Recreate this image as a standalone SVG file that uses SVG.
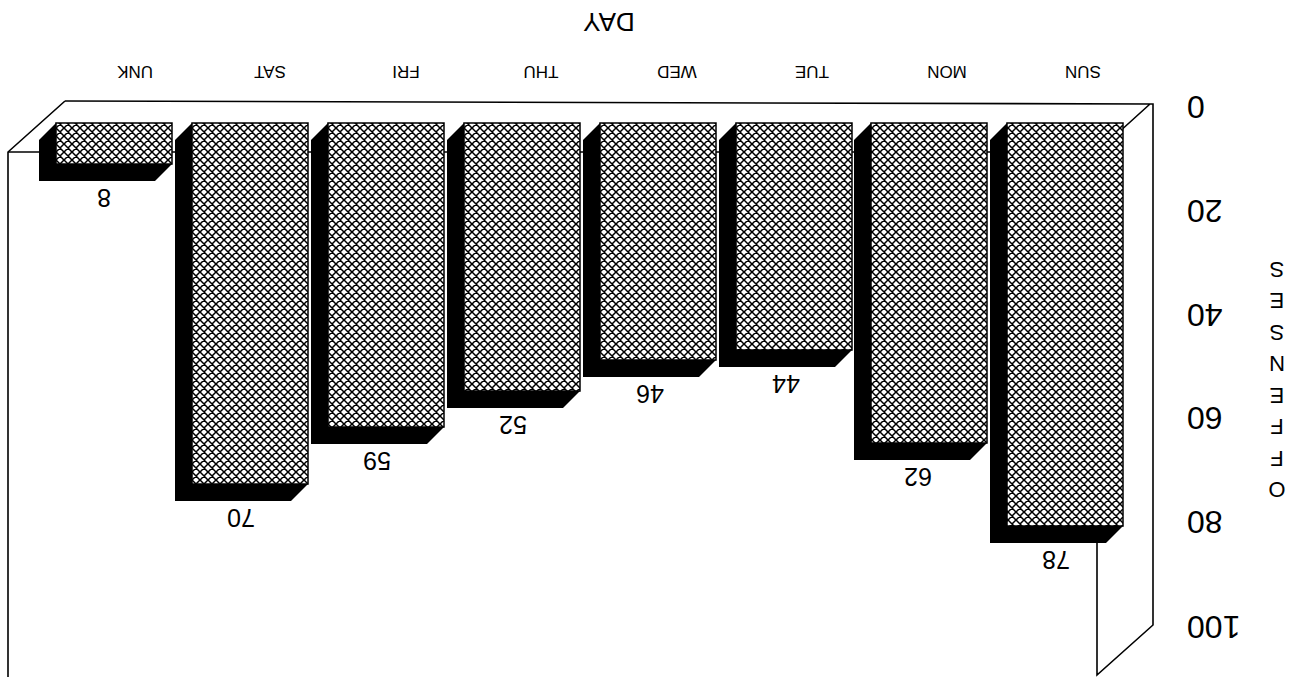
<svg xmlns="http://www.w3.org/2000/svg" width="1295" height="677" viewBox="0 0 1295 677">
<defs>
<pattern id="hatch" patternUnits="userSpaceOnUse" width="8" height="8">
<rect width="8" height="8" fill="#fff"/>
<path d="M0,0 L8,8 M8,0 L0,8 M-1,7 L1,9 M7,-1 L9,1 M-1,1 L1,-1 M7,9 L9,7" stroke="#000" stroke-width="1.5"/>
</pattern>
<style>
.t{font-family:"Liberation Sans",Arial,sans-serif;fill:#000}
.ax{font-size:32px;text-anchor:end}
.cat{font-size:17px;text-anchor:middle}
.val{font-size:25px;text-anchor:middle}
.ttl{font-size:26px;text-anchor:middle}
.vt{font-size:22px;text-anchor:middle}
.ln{stroke:#000;stroke-width:1.6;fill:none}
.sh{fill:#000}
.face{fill:url(#hatch);stroke:#000;stroke-width:1.5}
</style>
</defs>
<rect width="1295" height="677" fill="#fff"/>
<g id="frame">
<path class="ln" d="M65,101 L1150,104 L1153,104 L1153,625 L1097,675 L1097,152 L1150,104"/>
<path class="ln" d="M65,101 L8,152 L8,677"/>
<path class="ln" d="M8,152 L1097,152"/>
</g>
<g id="bars">
<g id="bar-unk"><polygon class="sh" points="56,123 172,123 172,164 155,181 39,181 39,140"/><rect class="face" x="56" y="123" width="116" height="41"/></g>
<g id="bar-sat"><polygon class="sh" points="192,123 308,123 308,484 291,501 175,501 175,140"/><rect class="face" x="192" y="123" width="116" height="361"/></g>
<g id="bar-fri"><polygon class="sh" points="328,123 444,123 444,427 427,444 311,444 311,140"/><rect class="face" x="328" y="123" width="116" height="304"/></g>
<g id="bar-thu"><polygon class="sh" points="464,123 580,123 580,391 563,408 447,408 447,140"/><rect class="face" x="464" y="123" width="116" height="268"/></g>
<g id="bar-wed"><polygon class="sh" points="600,123 716,123 716,360 699,377 583,377 583,140"/><rect class="face" x="600" y="123" width="116" height="237"/></g>
<g id="bar-tue"><polygon class="sh" points="736,123 852,123 852,350 835,367 719,367 719,140"/><rect class="face" x="736" y="123" width="116" height="227"/></g>
<g id="bar-mon"><polygon class="sh" points="871,123 987,123 987,443 970,460 854,460 854,140"/><rect class="face" x="871" y="123" width="116" height="320"/></g>
<g id="bar-sun"><polygon class="sh" points="1007,123 1123,123 1123,526 1106,543 990,543 990,140"/><rect class="face" x="1007" y="123" width="116" height="403"/></g>
</g>
<g id="values">
<text class="t val" x="104" y="207" transform="rotate(180 104 198)">8</text>
<text class="t val" x="241" y="527" transform="rotate(180 241 518)">70</text>
<text class="t val" x="377" y="470" transform="rotate(180 377 461)">59</text>
<text class="t val" x="513" y="434" transform="rotate(180 513 425)">52</text>
<text class="t val" x="650" y="403" transform="rotate(180 650 394)">46</text>
<text class="t val" x="786" y="393" transform="rotate(180 786 384)">44</text>
<text class="t val" x="918" y="486" transform="rotate(180 918 477)">62</text>
<text class="t val" x="1056" y="569" transform="rotate(180 1056 560)">78</text>
</g>
<g id="categories">
<text class="t cat" x="135" y="78" transform="rotate(180 135 72)">UNK</text>
<text class="t cat" x="270" y="78" transform="rotate(180 270 72)">SAT</text>
<text class="t cat" x="406" y="78" transform="rotate(180 406 72)">FRI</text>
<text class="t cat" x="541" y="78" transform="rotate(180 541 72)">THU</text>
<text class="t cat" x="677" y="78" transform="rotate(180 677 72)">WED</text>
<text class="t cat" x="812" y="78" transform="rotate(180 812 72)">TUE</text>
<text class="t cat" x="947" y="78" transform="rotate(180 947 72)">MON</text>
<text class="t cat" x="1083" y="78" transform="rotate(180 1083 72)">SUN</text>
</g>
<text id="xtitle" class="t ttl" x="609" y="31" transform="rotate(180 609 22)">DAY</text>
<g id="axis">
<text class="t ax" x="1187" y="118.5" transform="rotate(180 1187 107)">0</text>
<text class="t ax" x="1187" y="222.5" transform="rotate(180 1187 211)">20</text>
<text class="t ax" x="1187" y="326.5" transform="rotate(180 1187 315)">40</text>
<text class="t ax" x="1187" y="429.5" transform="rotate(180 1187 418)">60</text>
<text class="t ax" x="1187" y="533.5" transform="rotate(180 1187 522)">80</text>
<text class="t ax" x="1187" y="638.5" transform="rotate(180 1187 627)">100</text>
</g>
<g id="ytitle">
<text class="t vt" x="1277" y="278" transform="rotate(180 1277 270)">S</text>
<text class="t vt" x="1277" y="309" transform="rotate(180 1277 301)">E</text>
<text class="t vt" x="1277" y="341" transform="rotate(180 1277 333)">S</text>
<text class="t vt" x="1277" y="372" transform="rotate(180 1277 364)">N</text>
<text class="t vt" x="1277" y="404" transform="rotate(180 1277 396)">E</text>
<text class="t vt" x="1277" y="435" transform="rotate(180 1277 427)">F</text>
<text class="t vt" x="1277" y="467" transform="rotate(180 1277 459)">F</text>
<text class="t vt" x="1277" y="498" transform="rotate(180 1277 490)">O</text>
</g>
</svg>
